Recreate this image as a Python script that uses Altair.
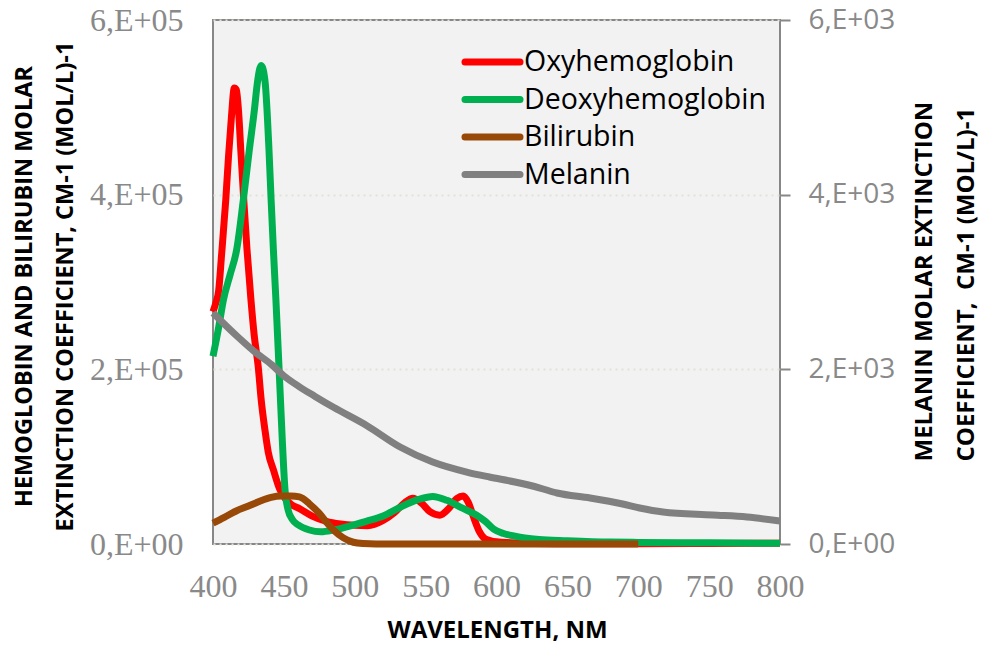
import altair as alt
import pandas as pd

# ---------------- data ----------------
wl_oxy = [400, 402, 404, 406, 409, 411, 413, 415, 416.5, 418.3, 419.6, 421.7, 424, 426.8, 429,
          431.9, 434, 436.7, 439, 442.6, 447, 451, 455.5, 461, 470, 480, 490, 500, 509, 520,
          528, 535, 541, 547, 553, 560, 566, 572, 576.5, 580, 584, 588, 592, 600, 610, 620,
          650, 700, 750, 800]
oxy = [266000, 276000, 290000, 330000, 394000, 445000, 489000, 522000, 520000, 489000, 451000,
       394000, 337000, 279000, 240000, 203000, 165000, 130000, 105000, 85000, 63000, 52000,
       45000, 40500, 32000, 26000, 23000, 21500, 21000, 27000, 36000, 47000, 52500, 47000,
       37000, 33000, 40000, 52000, 55000, 48000, 30000, 14000, 6000, 2500, 1500, 900, 400,
       300, 500, 800]

wl_deoxy = [400, 404, 407.3, 412, 416.7, 421.4, 425.6, 429.2, 431.3, 434, 436.7, 439.5, 441,
            442.6, 444.4, 447.3, 449, 450.8, 453, 456, 460, 468, 476, 485, 495, 508, 520, 532,
            545, 555, 565, 576, 586, 592, 598, 605, 613, 620, 630, 650, 680, 700, 750, 800]
deoxy = [215000, 248000, 279000, 308000, 337000, 394000, 451000, 497000, 528000, 548000,
         530000, 451000, 394000, 337000, 279000, 176000, 115000, 62000, 39000, 28000, 22000,
         16000, 14000, 16000, 20000, 26000, 32000, 42000, 51000, 54500, 50000, 41000, 33000,
         26000, 17000, 12000, 9000, 7000, 5200, 3800, 2200, 1800, 1400, 800]

wl_bili = [400, 408, 416, 425, 433, 441, 448, 455, 461, 468, 475, 480, 485, 492, 499, 506,
           515, 600, 700]
bili = [24000, 30500, 37500, 43500, 49000, 53400, 55000, 55000, 54000, 46000, 35000, 25000,
        16000, 7000, 2000, 500, 0, 0, 0]

wl_mel = [400, 417.6, 429.6, 441.6, 450, 461, 472, 485, 508.6, 532, 555, 579, 595, 613,
          630.7, 642.7, 666, 689, 701, 717.5, 752.7, 776.7, 800]
mel = [2645, 2370, 2198, 2050, 1925, 1800, 1690, 1565, 1355, 1111, 939, 824, 767, 710, 641,
       584, 527, 458, 412, 366, 332, 309, 263]

series_names = ["Oxyhemoglobin", "Deoxyhemoglobin", "Bilirubin", "Melanin"]
series_colors = ["#ff0000", "#00b050", "#984807", "#808080"]

x_ticks = [400, 450, 500, 550, 600, 650, 700, 750, 800]
left_ticks = [0, 200000, 400000, 600000]
right_ticks = [0, 2000, 4000, 6000]

# ---------------- styling ----------------
LABEL_GRAY = "#898989"
FRAME_GRAY = "#878787"
W, H = 567, 524

x_enc = alt.X(
    "wl:Q",
    scale=alt.Scale(domain=[400, 800], nice=False, zero=False),
    axis=alt.Axis(
        values=x_ticks, title="WAVELENGTH, NM", labelFlush=False, ticks=False, tickSize=0,
        domain=False, grid=False, labelFont="Liberation Serif", labelFontSize=32,
        labelColor=LABEL_GRAY, labelPadding=27, labelOverlap=False,
        titleFont="Open Sans", titleFontWeight="bold", titleFontSize=24, titleColor="black",
        titleX=284, titleY=93, titleBaseline="alphabetic", titleAlign="center",
    ),
)

y_left = alt.Y(
    "v:Q",
    scale=alt.Scale(domain=[0, 600000], nice=False),
    axis=alt.Axis(
        values=left_ticks,
        labelExpr="datum.value == 0 ? '0,E+00' : format(datum.value / 100000, 'd') + ',E+05'",
        title=["HEMOGLOBIN AND BILIRUBIN MOLAR", "EXTINCTION COEFFICIENT, CM-1 (MOL/L)-1"],
        ticks=False, tickSize=0, domain=False, grid=True, gridColor="#e2e2d6",
        gridDash=[2, 4], gridWidth=2, labelFont="Liberation Serif", labelFontSize=32,
        labelColor=LABEL_GRAY, labelPadding=30, labelOverlap=False,
        titleAngle=270, titleX=-201, titleY=266, titleAlign="center", titleBaseline="top",
        titleLineHeight=41, titleFont="Open Sans", titleFontWeight="bold", titleFontSize=23.5,
        titleColor="black",
    ),
)

y_right = alt.Y(
    "v:Q",
    scale=alt.Scale(domain=[0, 6000], nice=False),
    axis=alt.Axis(
        orient="right", values=right_ticks,
        labelExpr="datum.value == 0 ? '0,E+00' : format(datum.value / 1000, 'd') + ',E+03'",
        title=["MELANIN MOLAR EXTINCTION", "COEFFICIENT,\u00a0\u00a0CM-1 (MOL/L)-1"],
        ticks=True, tickSize=10, tickColor=FRAME_GRAY, tickWidth=2, domain=False, grid=False,
        labelFont="Open Sans", labelFontSize=28, labelColor=LABEL_GRAY, labelPadding=18,
        labelOverlap=False,
        titleAngle=270, titleX=132, titleY=441, titleAlign="left", titleBaseline="top",
        titleLineHeight=42, titleFont="Open Sans", titleFontWeight="bold", titleFontSize=24,
        titleColor="black",
    ),
)


def line(wls, vals, color, y_enc):
    df = pd.DataFrame({"wl": wls, "v": vals})
    return alt.Chart(df).mark_line(
        color=color, strokeWidth=7, interpolate="monotone"
    ).encode(x=x_enc, y=y_enc)


left = alt.layer(
    line(wl_oxy, oxy, series_colors[0], y_left),
    line(wl_deoxy, deoxy, series_colors[1], y_left),
    line(wl_bili, bili, series_colors[2], y_left),
)
right = line(wl_mel, mel, series_colors[3], y_right)

# ---------------- legend (inside plot, top right) ----------------
legend_layers = []
for i, (name, col) in enumerate(zip(series_names, series_colors)):
    ypos = 42 + 37.5 * i
    d = pd.DataFrame({"name": [name]})
    legend_layers.append(
        alt.Chart(d).mark_rule(color=col, strokeWidth=7, strokeCap="round").encode(
            x=alt.value(252), x2=alt.value(307), y=alt.value(ypos)
        )
    )
    legend_layers.append(
        alt.Chart(d).mark_text(
            align="left", baseline="middle", font="Open Sans", fontSize=28.5, color="black"
        ).encode(x=alt.value(311), y=alt.value(ypos), text="name:N")
    )

chart = (
    alt.layer(left, right, *legend_layers)
    .resolve_scale(y="independent")
    .properties(
        width=W, height=H,
        padding={"left": 213, "top": 20, "right": 204, "bottom": 102},
        autosize=alt.AutoSizeParams(type="none"),
        background="white",
    )
    .configure_view(fill="#f2f2f2", stroke=FRAME_GRAY, strokeWidth=2)
)

chart.save("out.html", embed_options={"renderer": "svg", "actions": False})
